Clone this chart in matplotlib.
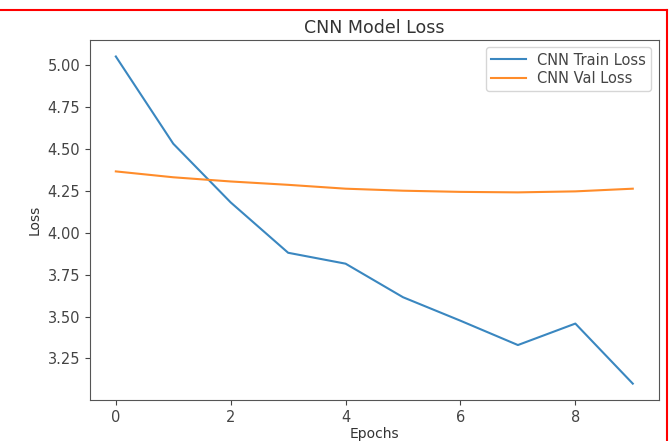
import matplotlib
matplotlib.use("Agg")
import matplotlib.pyplot as plt
from matplotlib.lines import Line2D

epochs = [0, 1, 2, 3, 4, 5, 6, 7, 8, 9]
train_loss = [5.05, 4.53, 4.18, 3.88, 3.815, 3.615, 3.475, 3.33, 3.458, 3.10]
val_loss = [4.365, 4.33, 4.305, 4.285, 4.262, 4.25, 4.243, 4.24, 4.246, 4.262]

fig = plt.figure(figsize=(6.69, 4.41), dpi=100)
ax = fig.add_axes([0.1345, 0.093, 0.85, 0.816])

ax.plot(epochs, train_loss, color="#3a87c0", label="CNN Train Loss", linewidth=1.5)
ax.plot(epochs, val_loss, color="#ff8c2a", label="CNN Val Loss", linewidth=1.5)

ax.set_title("CNN Model Loss", fontsize=12.5, color="#333333", pad=5)
ax.set_xlabel("Epochs", fontsize=10, color="#333333", labelpad=2)
ax.set_ylabel("Loss", fontsize=10, color="#333333")
ax.tick_params(labelsize=10.5, colors="#444444")
ax.set_xticks([0, 2, 4, 6, 8])
ax.set_yticks([3.25, 3.5, 3.75, 4.0, 4.25, 4.5, 4.75, 5.0])
for s in ax.spines.values():
    s.set_color("#555555")
ax.legend(loc="upper right", fontsize=10.5, labelspacing=0.25, borderpad=0.35,
          handlelength=2.4, labelcolor="#444444")

# red frame around the screenshot
fig.add_artist(Line2D([0, 0.9975], [0.978, 0.978], color="red", linewidth=1.5,
                      transform=fig.transFigure))
fig.add_artist(Line2D([0.9975, 0.9975], [0, 0.978], color="red", linewidth=1.5,
                      transform=fig.transFigure))

fig.savefig("out.png", dpi=100)
